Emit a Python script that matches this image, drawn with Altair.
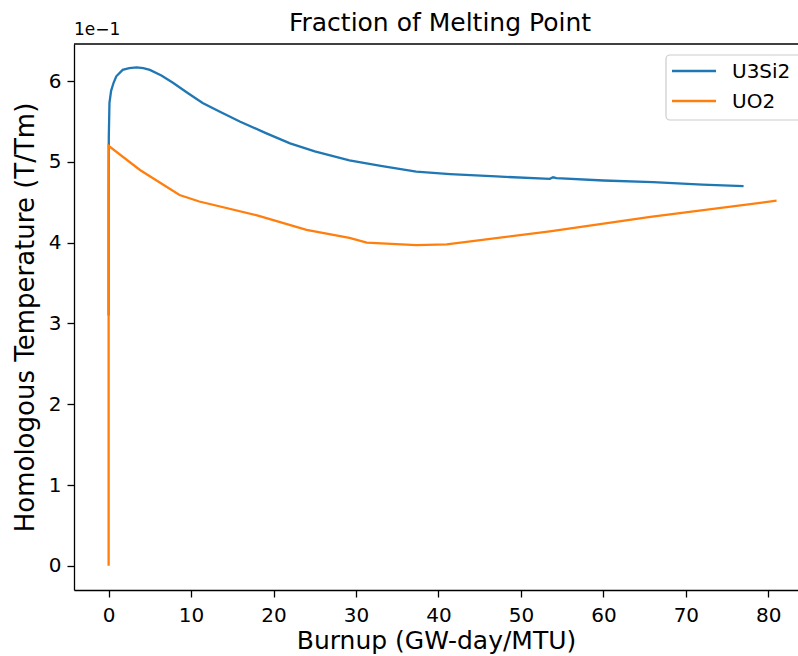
import altair as alt
import pandas as pd

# Values (y in units of 1e-1 of T/Tm)
u3si2_burnup = [0, 0, 0.02, 0.1, 0.3, 0.6, 0.93, 1.7, 2.5, 3.4, 4.2, 5.0, 6.4, 7.8, 9.5,
                11.4, 13.5, 15.9, 19.0, 22.0, 25.0, 29.2, 33.0, 37.3, 41.4, 47.0, 53.5,
                53.9, 54.3, 60.0, 66.0, 72.0, 77.0]
u3si2_temp = [3.1, 4.5, 5.3, 5.73, 5.88, 5.98, 6.06, 6.14, 6.16, 6.17, 6.16, 6.14, 6.07,
              5.98, 5.86, 5.73, 5.62, 5.5, 5.36, 5.23, 5.13, 5.02, 4.95, 4.88, 4.85,
              4.82, 4.79, 4.81, 4.80, 4.77, 4.75, 4.72, 4.70]
uo2_burnup = [0, 0, 3.8, 8.6, 11.0, 17.9, 24.0, 29.2, 31.3, 37.3, 41.0, 53.5, 65.7, 81.0]
uo2_temp = [0, 5.2, 4.9, 4.59, 4.51, 4.34, 4.16, 4.06, 4.0, 3.97, 3.98, 4.14, 4.32, 4.52]

series = ["U3Si2", "UO2"]
colors = ["#1f77b4", "#ff7f0e"]
x_ticks = [0, 10, 20, 30, 40, 50, 60, 70, 80]
y_ticks = [0, 1, 2, 3, 4, 5, 6]
title_text = "Fraction of Melting Point"
offset_label = "1e\u22121"

rows = []
for i, (b, t) in enumerate(zip(u3si2_burnup, u3si2_temp)):
    rows.append({"series": series[0], "burnup": b, "temp": t, "idx": i})
for i, (b, t) in enumerate(zip(uo2_burnup, uo2_temp)):
    rows.append({"series": series[1], "burnup": b, "temp": t, "idx": i})
df = pd.DataFrame(rows)

W, H = 724, 546
FONT = "DejaVu Sans"

lines = alt.Chart(df).mark_line(strokeWidth=2.3, clip=True).encode(
    x=alt.X("burnup:Q", title="Burnup (GW-day/MTU)",
            scale=alt.Scale(domain=[-4.2, 83.6], nice=False, zero=False),
            axis=alt.Axis(values=x_ticks, format="d", labelPadding=8, titlePadding=3)),
    y=alt.Y("temp:Q", title="Homologous Temperature (T/Tm)",
            scale=alt.Scale(domain=[-0.3, 6.46], nice=False, zero=False),
            axis=alt.Axis(values=y_ticks, format="d", titleFontSize=26, titlePadding=10)),
    color=alt.Color("series:N", scale=alt.Scale(domain=series, range=colors), legend=None),
    order="idx:Q",
)

one = pd.DataFrame({"a": [0]})

top_line = alt.Chart(one).mark_rule(color="black", strokeWidth=1.3).encode(
    x=alt.value(0), x2=alt.value(W + 20), y=alt.value(0)
)

offset_text = alt.Chart(pd.DataFrame({"t": [offset_label]})).mark_text(
    align="left", baseline="alphabetic", fontSize=17, font=FONT, color="black"
).encode(x=alt.value(0), y=alt.value(-9), text="t:N")

title_mark = alt.Chart(pd.DataFrame({"t": [title_text]})).mark_text(
    align="center", baseline="alphabetic", fontSize=25, font=FONT, color="black"
).encode(x=alt.value(366), y=alt.value(-13), text="t:N")

# legend (manual, to match the long line samples)
legend_box = alt.Chart(one).mark_rect(
    fill="white", fillOpacity=0.8, stroke="#cccccc", strokeWidth=1.2, cornerRadius=4
).encode(x=alt.value(592), x2=alt.value(W + 20), y=alt.value(11), y2=alt.value(76))

legend_layers = [legend_box]
for k, (name, col) in enumerate(zip(series, colors)):
    yy = 27 + 30 * k
    legend_layers.append(
        alt.Chart(one).mark_rule(color=col, strokeWidth=2.3).encode(
            x=alt.value(598), x2=alt.value(642), y=alt.value(yy))
    )
    legend_layers.append(
        alt.Chart(pd.DataFrame({"t": [name]})).mark_text(
            align="left", baseline="middle", fontSize=20, font=FONT, color="black"
        ).encode(x=alt.value(658), y=alt.value(yy + 1), text="t:N")
    )

chart = alt.layer(lines, top_line, offset_text, title_mark, *legend_layers).properties(
    width=W, height=H,
    autosize=alt.AutoSizeParams(type="none"),
    padding={"left": 74, "top": 44, "right": 0, "bottom": 66},
).configure_view(stroke=None).configure_axis(
    grid=False, domainColor="black", domainWidth=1.3, tickColor="black", tickWidth=1.3,
    tickSize=7, labelFontSize=20, labelColor="black", labelFont=FONT, titleFont=FONT,
    titleFontSize=25, titleFontWeight="normal", titleColor="black", labelPadding=6,
)

chart.save("out.html", embed_options={"renderer": "svg", "actions": False})
